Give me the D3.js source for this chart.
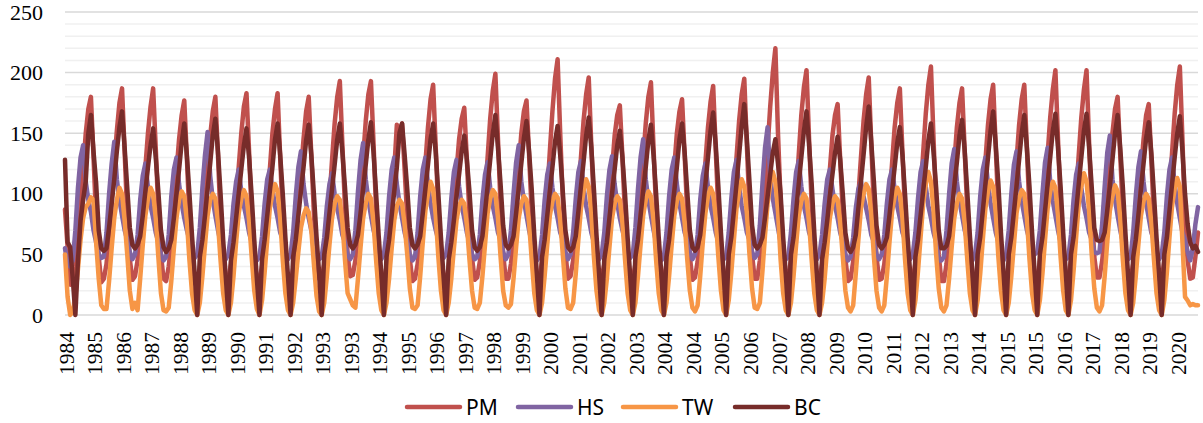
<!DOCTYPE html>
<html>
<head>
<meta charset="utf-8">
<script src="https://cdn.jsdelivr.net/npm/d3@7"></script>
<style>
  body { margin: 0; background: #fff; }
  svg { display: block; }
</style>
</head>
<body>
<script>
// monthly values, one row per water year (Oct .. Sep), first month Oct 1984
var pmValues = [
  87, 56, 25, 28, 40, 62, 92, 120, 150, 170, 180, 130,
  80, 48, 27, 30, 42, 65, 95, 125, 152, 175, 187, 135,
  82, 46, 29, 32, 45, 66, 92, 122, 150, 172, 187, 138,
  85, 50, 30, 28, 40, 60, 88, 118, 145, 165, 177, 130,
  80, 45, 26, 27, 38, 58, 90, 120, 148, 168, 180, 132,
  78, 44, 28, 30, 42, 62, 92, 122, 150, 172, 183, 135,
  82, 48, 27, 29, 40, 60, 90, 120, 150, 170, 183, 130,
  80, 45, 26, 25, 38, 58, 88, 118, 145, 168, 180, 132,
  84, 48, 30, 30, 42, 63, 95, 128, 158, 180, 193, 140,
  88, 50, 32, 33, 45, 66, 98, 130, 160, 182, 193, 142,
  85, 47, 30, 28, 40, 60, 88, 120, 157, 150, 158, 120,
  80, 46, 28, 30, 42, 64, 95, 125, 155, 178, 190, 138,
  84, 48, 30, 28, 40, 60, 90, 118, 145, 162, 171, 128,
  82, 47, 29, 31, 44, 66, 98, 130, 162, 185, 199, 145,
  90, 50, 30, 30, 42, 62, 92, 122, 150, 168, 177, 132,
  85, 47, 28, 30, 44, 66, 100, 135, 168, 195, 211, 150,
  95, 52, 30, 32, 45, 68, 98, 130, 160, 182, 196, 140,
  88, 48, 28, 30, 42, 62, 92, 120, 148, 165, 173, 130,
  82, 46, 28, 29, 42, 64, 96, 128, 158, 180, 192, 138,
  86, 48, 30, 30, 42, 62, 92, 122, 150, 168, 178, 132,
  84, 48, 29, 31, 44, 65, 96, 126, 155, 176, 189, 136,
  85, 47, 28, 30, 44, 66, 98, 130, 160, 182, 195, 140,
  88, 50, 30, 30, 45, 68, 102, 138, 172, 200, 220, 150,
  95, 52, 30, 32, 45, 66, 98, 132, 165, 188, 202, 145,
  90, 48, 28, 30, 42, 62, 90, 120, 148, 165, 174, 128,
  84, 46, 28, 30, 44, 66, 98, 130, 160, 182, 196, 140,
  88, 48, 29, 30, 42, 64, 95, 125, 155, 175, 187, 135,
  85, 47, 27, 29, 43, 66, 100, 134, 166, 190, 205, 145,
  90, 50, 28, 28, 42, 64, 95, 125, 155, 175, 187, 136,
  86, 48, 27, 27, 42, 64, 96, 127, 157, 178, 190, 138,
  86, 48, 26, 28, 42, 64, 96, 127, 157, 178, 190, 138,
  85, 47, 28, 30, 44, 66, 100, 132, 163, 186, 202, 145,
  90, 50, 30, 31, 45, 67, 100, 132, 163, 186, 202, 142,
  88, 48, 31, 31, 44, 64, 93, 122, 150, 170, 180, 132,
  85, 47, 30, 30, 42, 62, 90, 118, 145, 165, 174, 128,
  80, 46, 29, 30, 44, 66, 100, 134, 166, 190, 205, 145,
  75, 45, 30, 31, 48, 68
];

var hsValues = [
  55, 42, 40, 45, 70, 105, 130, 140, 110, 95, 85, 70,
  60, 50, 47, 48, 68, 100, 125, 143, 112, 95, 82, 70,
  62, 52, 46, 50, 66, 95, 115, 125, 105, 90, 80, 68,
  60, 50, 45, 48, 66, 98, 120, 130, 108, 92, 80, 70,
  62, 52, 47, 50, 72, 105, 132, 151, 115, 95, 82, 70,
  60, 50, 46, 50, 66, 92, 110, 120, 102, 90, 80, 68,
  60, 50, 45, 48, 65, 92, 112, 120, 104, 90, 80, 68,
  62, 52, 46, 50, 68, 98, 122, 135, 108, 92, 80, 70,
  60, 50, 46, 48, 64, 90, 108, 117, 100, 88, 78, 66,
  60, 50, 46, 50, 70, 102, 128, 142, 112, 95, 82, 70,
  62, 52, 46, 50, 68, 98, 120, 130, 108, 92, 80, 68,
  60, 50, 45, 48, 68, 98, 120, 130, 108, 92, 80, 70,
  62, 52, 47, 50, 68, 96, 118, 128, 106, 90, 80, 68,
  60, 50, 46, 48, 66, 95, 116, 126, 105, 90, 80, 68,
  62, 52, 46, 50, 70, 100, 126, 140, 110, 94, 82, 70,
  60, 50, 45, 48, 66, 95, 116, 125, 105, 90, 80, 68,
  62, 52, 46, 50, 68, 96, 118, 127, 106, 90, 80, 68,
  60, 50, 46, 50, 68, 98, 120, 131, 108, 92, 80, 70,
  62, 52, 47, 50, 72, 104, 130, 145, 112, 95, 82, 70,
  60, 50, 45, 48, 68, 98, 120, 130, 108, 92, 80, 68,
  62, 52, 46, 50, 66, 95, 115, 125, 105, 90, 80, 68,
  60, 50, 46, 48, 68, 96, 118, 128, 106, 90, 80, 68,
  62, 52, 47, 50, 74, 108, 138, 155, 115, 96, 84, 72,
  60, 50, 46, 48, 68, 96, 118, 127, 106, 90, 80, 68,
  62, 52, 46, 50, 66, 92, 112, 120, 104, 90, 80, 68,
  60, 50, 45, 48, 64, 88, 104, 110, 98, 88, 78, 66,
  60, 50, 46, 50, 66, 92, 112, 120, 104, 90, 80, 68,
  62, 52, 46, 50, 68, 96, 118, 127, 106, 90, 80, 68,
  60, 45, 45, 48, 70, 100, 125, 137, 110, 94, 82, 70,
  62, 50, 45, 50, 68, 98, 120, 130, 108, 92, 80, 68,
  60, 48, 45, 50, 70, 100, 124, 135, 110, 94, 82, 70,
  62, 53, 50, 52, 70, 100, 126, 138, 110, 94, 82, 70,
  60, 50, 46, 48, 66, 95, 116, 125, 105, 90, 80, 68,
  62, 52, 51, 52, 74, 106, 134, 148, 112, 95, 82, 70,
  60, 50, 46, 48, 68, 98, 122, 135, 110, 92, 80, 68,
  62, 52, 46, 50, 68, 98, 120, 130, 108, 92, 80, 68,
  62, 52, 45, 55, 75, 89
];

var twValues = [
  50, 15, 0, 3, 15, 38, 62, 80, 89, 92, 97, 95,
  60, 30, 8, 5, 5, 28, 55, 80, 95, 105, 100, 78,
  50, 20, 5, 10, 4, 30, 58, 82, 96, 105, 100, 80,
  48, 18, 4, 3, 6, 28, 55, 80, 95, 102, 98, 78,
  45, 18, 4, 0, 10, 32, 58, 82, 95, 100, 96, 76,
  45, 18, 4, 0, 10, 32, 60, 84, 96, 103, 98, 78,
  48, 20, 5, 0, 12, 35, 62, 88, 100, 108, 102, 80,
  45, 18, 4, 0, 10, 30, 52, 72, 82, 88, 85, 70,
  42, 16, 3, 0, 10, 32, 58, 80, 92, 98, 95, 76,
  45, 18, 13, 8, 6, 30, 56, 80, 92, 100, 96, 76,
  45, 18, 4, 0, 10, 30, 55, 78, 90, 95, 92, 74,
  50, 22, 6, 5, 8, 32, 60, 86, 100, 110, 104, 82,
  48, 20, 4, 0, 10, 30, 55, 78, 90, 95, 92, 74,
  46, 20, 6, 5, 10, 32, 58, 84, 96, 103, 100, 80,
  48, 20, 8, 6, 9, 30, 56, 80, 92, 98, 95, 76,
  46, 18, 4, 0, 10, 32, 58, 82, 94, 100, 97, 78,
  50, 22, 6, 5, 10, 34, 62, 88, 102, 112, 106, 84,
  48, 20, 4, 0, 10, 30, 56, 80, 92, 98, 95, 76,
  46, 18, 4, 0, 10, 32, 58, 82, 95, 102, 98, 78,
  45, 18, 4, 0, 10, 32, 58, 82, 94, 100, 96, 76,
  46, 20, 6, 3, 8, 32, 60, 84, 98, 105, 100, 80,
  48, 20, 4, 0, 12, 35, 62, 88, 102, 112, 106, 84,
  50, 22, 6, 5, 10, 36, 66, 92, 108, 118, 110, 86,
  46, 18, 4, 0, 10, 32, 58, 82, 94, 100, 96, 76,
  45, 18, 4, 0, 10, 30, 56, 80, 92, 98, 95, 76,
  48, 20, 6, 3, 8, 34, 62, 88, 100, 108, 104, 82,
  48, 20, 6, 3, 8, 32, 60, 85, 98, 105, 100, 80,
  46, 18, 4, 0, 12, 36, 64, 92, 108, 118, 110, 86,
  50, 22, 6, 3, 8, 30, 56, 80, 92, 100, 96, 76,
  46, 18, 4, 0, 12, 34, 62, 88, 102, 111, 106, 84,
  48, 20, 4, 0, 10, 32, 58, 84, 96, 103, 100, 80,
  46, 18, 4, 0, 12, 34, 62, 88, 102, 110, 105, 82,
  48, 20, 4, 0, 12, 36, 64, 92, 106, 117, 110, 86,
  50, 22, 6, 3, 8, 32, 60, 86, 98, 107, 102, 80,
  46, 18, 4, 0, 10, 32, 58, 82, 94, 100, 96, 76,
  46, 18, 4, 0, 12, 35, 64, 90, 104, 113, 106, 60,
  15, 12, 8, 9, 8, 8
];

var bcValues = [
  128, 60, 56, 30, 0, 45, 78, 95, 110, 150, 165, 135,
  109, 70, 55, 53, 55, 72, 92, 112, 135, 155, 168, 138,
  105, 72, 58, 55, 58, 65, 82, 102, 122, 140, 154, 130,
  102, 70, 56, 52, 55, 62, 80, 100, 120, 142, 158, 132,
  100, 65, 35, 0, 48, 62, 82, 104, 125, 148, 162, 135,
  100, 62, 32, 0, 45, 60, 80, 100, 120, 140, 154, 130,
  98, 62, 30, 0, 46, 62, 82, 102, 122, 145, 158, 132,
  100, 64, 32, 0, 48, 62, 82, 102, 122, 144, 157, 132,
  100, 65, 35, 0, 50, 64, 84, 104, 124, 145, 158, 134,
  105, 72, 58, 55, 58, 66, 84, 104, 124, 145, 159, 134,
  100, 65, 34, 0, 48, 62, 82, 102, 122, 150, 158, 132,
  104, 72, 58, 55, 58, 65, 84, 104, 124, 145, 158, 134,
  100, 64, 32, 0, 46, 60, 78, 98, 116, 135, 148, 128,
  102, 70, 56, 53, 56, 65, 85, 106, 128, 150, 165, 138,
  108, 74, 58, 55, 58, 65, 84, 104, 125, 146, 160, 135,
  104, 66, 34, 0, 48, 62, 82, 102, 122, 143, 156, 132,
  102, 70, 56, 53, 56, 65, 85, 106, 126, 148, 163, 138,
  104, 66, 34, 0, 46, 60, 80, 100, 120, 140, 152, 130,
  100, 64, 32, 0, 48, 62, 82, 102, 122, 144, 157, 132,
  100, 64, 34, 0, 48, 62, 82, 102, 122, 145, 158, 134,
  102, 70, 56, 53, 56, 66, 86, 108, 130, 152, 167, 140,
  106, 68, 35, 0, 50, 64, 86, 108, 132, 156, 174, 145,
  110, 74, 58, 55, 58, 64, 80, 98, 116, 134, 145, 125,
  100, 64, 34, 0, 50, 64, 86, 108, 130, 152, 168, 140,
  108, 68, 34, 0, 46, 60, 78, 98, 116, 134, 147, 128,
  100, 68, 55, 52, 56, 66, 88, 110, 132, 155, 172, 142,
  110, 74, 58, 55, 58, 64, 82, 102, 122, 142, 155, 132,
  100, 64, 34, 0, 48, 62, 82, 102, 122, 144, 158, 134,
  105, 70, 55, 55, 57, 65, 85, 106, 126, 148, 161, 136,
  102, 66, 34, 0, 50, 64, 86, 108, 130, 152, 168, 140,
  108, 68, 35, 0, 50, 64, 85, 106, 128, 150, 165, 138,
  106, 68, 35, 0, 50, 64, 86, 108, 130, 152, 166, 138,
  106, 68, 35, 0, 50, 64, 86, 108, 130, 152, 166, 138,
  106, 72, 62, 61, 62, 68, 86, 106, 128, 150, 165, 138,
  106, 68, 34, 0, 48, 62, 82, 104, 125, 146, 159, 134,
  100, 64, 34, 0, 50, 64, 86, 108, 130, 150, 164, 135,
  100, 75, 60, 55, 57, 52
];

var seriesNames = ["PM", "HS", "TW", "BC"];
var seriesColors = ["#C0504D", "#8064A2", "#F79646", "#772C2A"];

// category labels, one on every 11th month
var tickLabels = ["1984", "1985", "1986", "1987", "1988", "1989", "1990", "1991",
  "1992", "1993", "1993", "1994", "1995", "1996", "1997", "1998", "1999", "2000",
  "2001", "2002", "2003", "2004", "2004", "2005", "2006", "2007", "2008", "2009",
  "2010", "2011", "2012", "2013", "2014", "2015", "2015", "2016", "2017", "2018",
  "2019", "2020"];
var tickStep = 11;
var yTicks = [0, 50, 100, 150, 200, 250];

var width = 1203,
    height = 423,
    margin = {left: 65, right: 5, top: 12, bottom: 108};

var series = [pmValues, hsValues, twValues, bcValues];
var n = pmValues.length;

var svg = d3.select("body").append("svg")
    .attr("width", width)
    .attr("height", height);

var x = d3.scaleLinear()
    .domain([0, n - 1])
    .range([margin.left, width - margin.right]);

var y = d3.scaleLinear()
    .domain([0, 250])
    .range([height - margin.bottom, margin.top]);

// minor gridlines every 10
svg.append("g")
    .selectAll("line")
    .data(d3.range(10, 250, 10).filter(function(d) { return d % 50 !== 0; }))
    .enter().append("line")
    .attr("x1", x(0)).attr("x2", x(n - 1))
    .attr("y1", function(d) { return y(d); })
    .attr("y2", function(d) { return y(d); })
    .style("stroke", "#F0F0F0")
    .style("stroke-width", "1.5px");

// major gridlines
svg.append("g")
    .selectAll("line")
    .data(yTicks)
    .enter().append("line")
    .attr("x1", x(0)).attr("x2", x(n - 1))
    .attr("y1", function(d) { return y(d); })
    .attr("y2", function(d) { return y(d); })
    .style("stroke", "#D9D9D9")
    .style("stroke-width", "1.5px");

// y axis labels
var yAxis = d3.axisLeft(y).tickValues(yTicks).tickSize(0).tickPadding(22);
var gy = svg.append("g")
    .attr("transform", "translate(" + margin.left + ",0)")
    .call(yAxis);
gy.select(".domain").remove();
gy.selectAll("text")
    .style("font-family", "'Liberation Serif', 'Times New Roman', serif")
    .style("font-size", "22px")
    .style("fill", "#000");

// x labels, rotated
svg.append("g")
    .selectAll("text")
    .data(tickLabels)
    .enter().append("text")
    .attr("transform", function(d, i) {
        return "translate(" + (x(i * tickStep) + 1) + "," + (y(0) + 17) + ") rotate(-90)";
    })
    .attr("dy", "0.35em")
    .attr("text-anchor", "end")
    .style("font-family", "'Liberation Serif', 'Times New Roman', serif")
    .style("font-size", "21.5px")
    .style("fill", "#000")
    .text(function(d) { return d; });

var line = d3.line()
    .x(function(d, i) { return x(i); })
    .y(function(d) { return y(d); });

svg.append("g")
    .selectAll("path")
    .data(series)
    .enter().append("path")
    .attr("d", line)
    .style("fill", "none")
    .style("stroke", function(d, i) { return seriesColors[i]; })
    .style("stroke-width", "4.5px")
    .style("stroke-linejoin", "round")
    .style("stroke-linecap", "round");

// legend
var legendX = [407, 518, 623, 735];
var legend = svg.append("g")
    .selectAll("g")
    .data(seriesNames)
    .enter().append("g")
    .attr("transform", function(d, i) { return "translate(" + legendX[i] + ",407)"; });

legend.append("line")
    .attr("x1", 0).attr("x2", 53)
    .attr("y1", 0).attr("y2", 0)
    .style("stroke", function(d, i) { return seriesColors[i]; })
    .style("stroke-width", "4.5px")
    .style("stroke-linecap", "round");

legend.append("text")
    .attr("x", 59)
    .attr("y", 0)
    .attr("dy", "0.36em")
    .style("font-family", "'Noto Sans', 'Open Sans', sans-serif")
    .style("font-size", "21px")
    .style("fill", "#000")
    .text(function(d) { return d; });
</script>
</body>
</html>
